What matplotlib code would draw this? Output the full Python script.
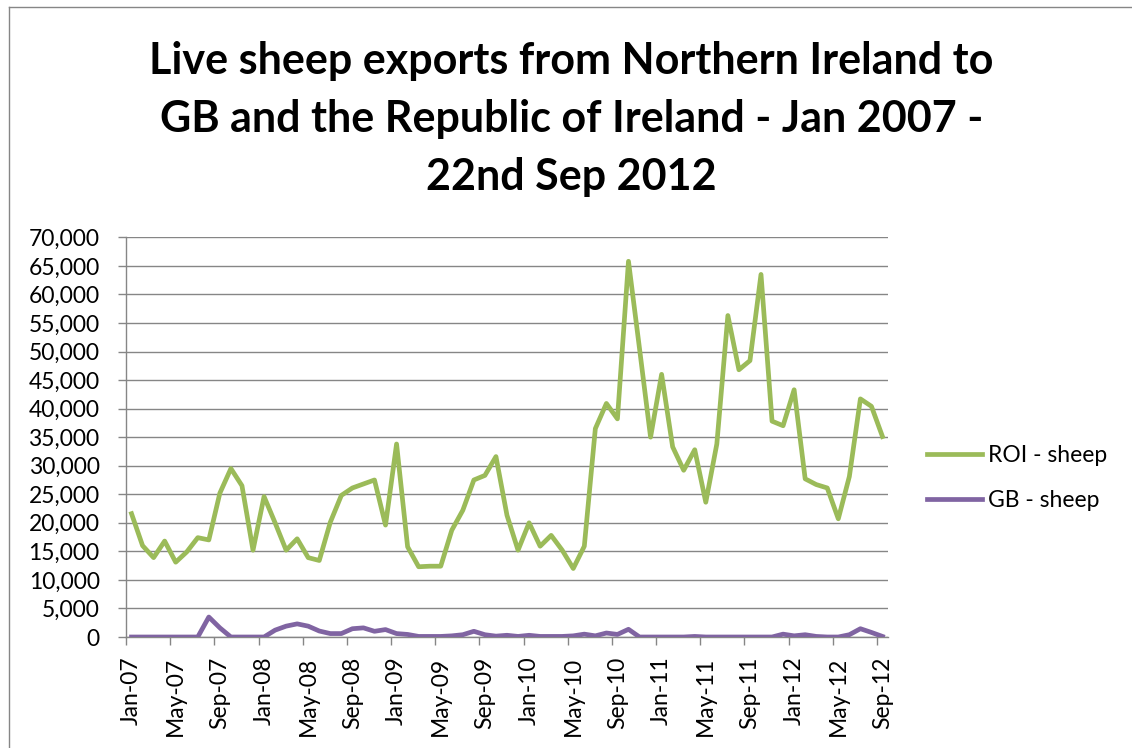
import numpy as np
import pandas as pd
import matplotlib
matplotlib.use("Agg")
import matplotlib.pyplot as plt
from matplotlib.ticker import FuncFormatter
from matplotlib.lines import Line2D

plt.rcParams["font.family"] = ["Lato", "DejaVu Sans"]

# monthly categories Jan-07 .. Sep-12
months = pd.date_range("2007-01-01", periods=69, freq="MS")
month_labels = [d.strftime("%b-%y") for d in months]

roi_sheep = [
    21600, 16000, 13900, 16800, 13100, 14900, 17400, 17000, 25200, 29500,
    26500, 15200, 24600, 20000, 15200, 17200, 13900, 13400, 20100, 24800,
    26100, 26800, 27500, 19600, 33800, 15800, 12300, 12400, 12400, 18700,
    22200, 27500, 28300, 31600, 21300, 15200, 20000, 15900, 17800, 15200,
    12000, 15900, 36500, 40900, 38200, 65800, 50500, 35000, 46000, 33300,
    29200, 32800, 23600, 33800, 56300, 46800, 48400, 63500, 37800, 37000,
    43300, 27700, 26700, 26100, 20700, 28100, 41700, 40400, 35100,
]
gb_sheep = [
    0, 0, 0, 0, 0, 0, 0, 3500, 1600, 0,
    0, 0, 0, 1200, 1900, 2300, 1900, 1050, 600, 600,
    1450, 1600, 1000, 1300, 600, 450, 100, 100, 100, 200,
    400, 1000, 400, 150, 300, 100, 300, 100, 100, 100,
    200, 500, 200, 700, 450, 1350, 0, 0, 0, 0,
    0, 100, 0, 0, 0, 0, 0, 0, 0, 500,
    200, 400, 100, 0, 0, 400, 1450, 800, 100,
]

title_lines = [
    "Live sheep exports from Northern Ireland to",
    "GB and the Republic of Ireland - Jan 2007 -",
    "22nd Sep 2012",
]

W, H = 1132, 748
fig = plt.figure(figsize=(W / 100, H / 100), dpi=100)

# outer chart border (top and left visible)
grey = "#868686"
fig.add_artist(Line2D([9 / W, 1.0], [1 - 7 / H, 1 - 7 / H], color=grey, lw=1.0))
fig.add_artist(Line2D([9 / W, 9 / W], [0, 1 - 7 / H], color=grey, lw=1.0))

for txt, base in zip(title_lines, [74, 132, 190]):
    fig.text(0.505, 1 - base / H, txt, ha="center", va="baseline",
             fontsize=31, fontweight="bold", color="black")

ax = fig.add_axes([126 / W, 1 - 637 / H, (888 - 126) / W, (637 - 237.3) / H])

x = np.arange(len(roi_sheep))
ax.plot(x, roi_sheep, color="#9BBB59", lw=3.4, label="ROI - sheep", zorder=3)
ax.plot(x, gb_sheep, color="#8064A2", lw=3.4, label="GB - sheep", zorder=3)

ax.set_xlim(-0.5, len(x) - 0.5)
ax.set_ylim(0, 70000)
ax.set_yticks(np.arange(0, 70001, 5000))
ax.yaxis.set_major_formatter(FuncFormatter(lambda v, p: f"{v:,.0f}"))

# labels centred on categories, tick marks on category boundaries
label_pos = np.arange(0, len(x), 4)
ax.set_xticks(label_pos)
ax.set_xticklabels([month_labels[i] for i in label_pos], rotation=90)
ax.set_xticks(label_pos - 0.5, minor=True)
ax.tick_params(axis="x", which="major", length=0, pad=14, labelsize=16.5)
ax.tick_params(axis="x", which="minor", length=6, width=1.0, color=grey)
ax.tick_params(axis="y", length=6, width=1.0, color=grey, pad=13, labelsize=16.5)

ax.grid(axis="y", color=grey, lw=1.0)
ax.set_axisbelow(True)
for side in ["top", "right"]:
    ax.spines[side].set_visible(False)
for side in ["left", "bottom"]:
    ax.spines[side].set_color(grey)
    ax.spines[side].set_linewidth(1.0)

fig.legend(loc="upper left", bbox_to_anchor=(927 / W, 1 - 445 / H),
           frameon=False, borderpad=0, borderaxespad=0, fontsize=16.5,
           handlelength=2.4, handletextpad=0.25, labelspacing=1.05)

fig.savefig("out.png", dpi=100)
